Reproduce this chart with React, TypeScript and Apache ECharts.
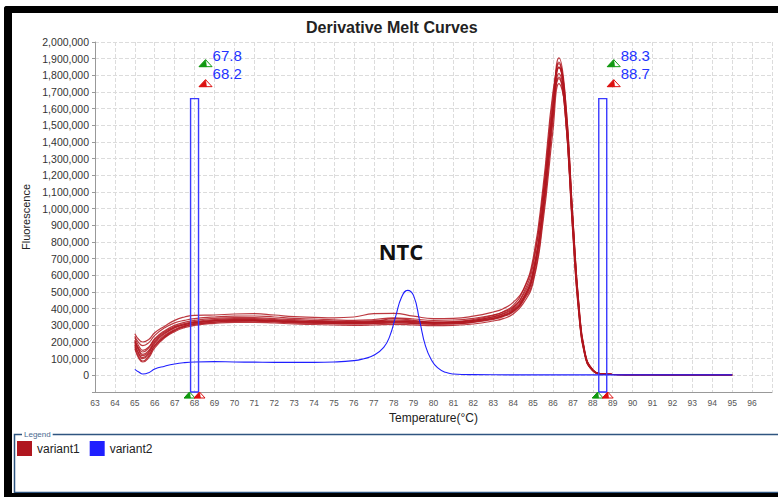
import React, { useEffect, useRef } from "react";
import * as echarts from "echarts";

// Temperatures (°C) sampled for the variant1 curves
const temps = [65, 65.2, 65.4, 65.7, 66, 66.5, 67, 67.5, 68, 69, 70, 71, 72, 73, 74, 75, 76, 77, 78, 79, 80, 81, 82, 83, 83.5, 84, 84.5, 85, 85.5, 86, 86.3, 86.6, 87, 87.3, 87.6, 88, 88.5, 89, 90, 92, 95];

// variant1 replicate curves (fluorescence, thousands)
const c1 = [250, 215, 200, 215, 255, 295, 330, 350, 360, 362, 368, 370, 362, 352, 348, 345, 350, 370, 372, 355, 340, 342, 355, 380, 400, 438, 510, 680, 1080, 1610, 1790, 1590, 860, 380, 125, 28, 8, 5, 4, 3, 2];
const c2 = [235, 195, 178, 196, 240, 285, 315, 330, 340, 350, 355, 356, 350, 342, 338, 333, 330, 335, 345, 338, 330, 332, 342, 362, 380, 410, 480, 630, 1040, 1630, 1880, 1660, 900, 400, 132, 30, 8, 5, 4, 3, 2];
const c3 = [212, 162, 140, 165, 215, 262, 292, 310, 322, 335, 340, 340, 334, 328, 325, 322, 320, 322, 326, 322, 318, 320, 330, 350, 368, 398, 465, 615, 1020, 1610, 1905, 1700, 940, 415, 138, 32, 9, 5, 4, 3, 2];
const c4 = [192, 132, 106, 135, 190, 240, 275, 298, 312, 325, 330, 330, 326, 320, 318, 315, 313, 316, 320, 317, 312, 314, 324, 342, 358, 388, 455, 600, 990, 1570, 1845, 1650, 910, 405, 132, 30, 8, 5, 4, 3, 2];
const c5 = [172, 112, 86, 115, 175, 230, 268, 292, 305, 318, 324, 325, 320, 314, 312, 310, 308, 310, 314, 311, 306, 308, 318, 336, 352, 380, 445, 570, 950, 1530, 1810, 1660, 920, 410, 135, 31, 8, 5, 4, 3, 2];
const c6 = [160, 102, 80, 106, 165, 225, 262, 286, 300, 312, 318, 318, 314, 308, 305, 302, 300, 302, 306, 303, 298, 300, 308, 326, 340, 368, 430, 555, 920, 1470, 1750, 1620, 930, 430, 145, 34, 9, 5, 4, 3, 2];
const c7 = [205, 155, 126, 150, 205, 255, 288, 305, 318, 330, 334, 333, 328, 322, 320, 318, 316, 320, 324, 320, 315, 318, 330, 352, 372, 405, 490, 660, 1090, 1670, 1870, 1630, 860, 375, 122, 28, 8, 5, 4, 3, 2];
const c8 = [226, 176, 150, 170, 220, 268, 300, 318, 330, 342, 346, 346, 340, 334, 330, 326, 324, 328, 332, 326, 320, 322, 335, 360, 382, 420, 510, 700, 1130, 1700, 1850, 1600, 840, 365, 118, 27, 7, 5, 4, 3, 2];
const c9 = [182, 126, 100, 125, 180, 235, 270, 294, 308, 320, 326, 327, 322, 316, 314, 312, 310, 312, 316, 312, 308, 310, 320, 340, 356, 384, 450, 595, 985, 1565, 1850, 1690, 945, 425, 140, 32, 9, 5, 4, 3, 2];
const c10 = [200, 148, 118, 142, 198, 250, 284, 304, 316, 328, 333, 334, 330, 324, 322, 320, 318, 322, 340, 330, 318, 316, 325, 345, 362, 392, 462, 612, 1010, 1600, 1780, 1590, 880, 390, 128, 29, 8, 5, 4, 3, 2];
const variant1Curves = [c1, c2, c3, c4, c5, c6, c7, c8, c9, c10];

// variant2 (NTC) curve
const ntcTemps = [65, 65.2, 65.4, 65.7, 66, 66.5, 67, 67.5, 68, 69, 70, 71, 72, 73, 74, 75, 76, 76.5, 77, 77.5, 77.8, 78.1, 78.4, 78.7, 79, 79.3, 79.6, 79.9, 80.2, 80.6, 81, 82, 84, 86, 88, 90, 92, 95];
const ntcValues = [36, 20, 8, 16, 38, 55, 68, 76, 80, 82, 80, 79, 78, 78, 78, 80, 88, 100, 120, 168, 234, 354, 470, 510, 478, 330, 175, 92, 46, 18, 8, 4, 3, 3, 3, 3, 3, 3];

// melt-region markers (start, end temperatures) and marker height
const markerPairs = [[67.8, 68.2], [88.3, 88.7]];
const markerTop = 1660000;

const seriesNames = ["variant1", "variant2"];
const RED = "#b0161f";
const BLUE = "#1f1fff";
const FONT = "Liberation Sans, Arial, sans-serif";

function tri(cx: number, apexY: number, baseY: number, halfW: number, color: string) {
  return [
    {
      type: "polygon",
      shape: { points: [[cx, apexY], [cx - halfW, baseY], [cx + halfW, baseY]] },
      style: { fill: "#fff", stroke: color, lineWidth: 1 },
    },
    {
      type: "polygon",
      shape: { points: [[cx, apexY], [cx - halfW, baseY], [cx + 1, baseY]] },
      style: { fill: color, stroke: color, lineWidth: 0.5 },
    },
  ];
}

export default function App() {
  const ref = useRef<HTMLDivElement>(null);
  useEffect(() => {
    if (!ref.current) return;
    const chart = echarts.init(ref.current, null, { renderer: "svg" });
    const series: any[] = variant1Curves.map((vals) => ({
      name: seriesNames[0],
      type: "line",
      data: temps.map((t, i) => [t, vals[i] * 1000]),
      smooth: 0.5,
      symbol: "none",
      lineStyle: { color: RED, width: 1.2, opacity: 0.85 },
      itemStyle: { color: RED },
      z: 3,
    }));
    series.push({
      name: seriesNames[1],
      type: "line",
      data: ntcTemps.map((t, i) => [t, ntcValues[i] * 1000]),
      smooth: 0.5,
      symbol: "none",
      lineStyle: { color: BLUE, width: 1.1 },
      itemStyle: { color: BLUE },
      z: 4,
    });
    series.push({
      type: "custom",
      name: "markers",
      silent: true,
      clip: false,
      z: 5,
      encode: { x: [0, 1], y: 2 },
      data: markerPairs.map((p) => [p[0], p[1], markerTop]),
      renderItem: (params: any, api: any) => {
        const a = api.value(0);
        const b = api.value(1);
        const top = api.coord([a, api.value(2)]);
        const bot = api.coord([b, -100000]);
        const xa = top[0];
        const xb = bot[0];
        const ty = top[1];
        const by = bot[1];
        const ax = xa + 15;
        const children: any[] = [
          {
            type: "rect",
            shape: { x: xa, y: ty, width: xb - xa, height: by - ty },
            style: { fill: "none", stroke: "#3a3aff", lineWidth: 1.4 },
          },
          ...tri(ax, ty - 39, ty - 32, 6.5, "#119911"),
          ...tri(ax, ty - 19, ty - 12, 6.5, "#dd1111"),
          {
            type: "text",
            style: { text: a.toFixed(1), x: ax + 7, y: ty - 43, fill: "#2233ff", font: "15px " + FONT, verticalAlign: "middle", align: "left" },
          },
          {
            type: "text",
            style: { text: b.toFixed(1), x: ax + 7, y: ty - 25, fill: "#2233ff", font: "15px " + FONT, verticalAlign: "middle", align: "left" },
          },
          ...tri(xa - 1, by, by + 6, 5.5, "#119911"),
          ...tri(xb + 1, by, by + 6, 5.5, "#dd1111"),
        ];
        return { type: "group", children };
      },
    });

    chart.setOption({
      animation: false,
      backgroundColor: "#fff",
      textStyle: { fontFamily: FONT },
      title: {
        text: "Derivative Melt Curves",
        left: 306,
        top: 19,
        padding: 0,
        textStyle: { fontSize: 16, fontWeight: "bold", color: "#222", fontFamily: FONT },
      },
      grid: { left: 95, right: 6, top: 42, bottom: 105 },
      legend: {
        data: seriesNames,
        left: 17,
        top: 441,
        padding: 0,
        itemWidth: 15,
        itemHeight: 15,
        itemGap: 10,
        icon: "rect",
        textStyle: { fontSize: 12, color: "#222", fontFamily: FONT },
      },
      xAxis: {
        type: "value",
        min: 63,
        max: 97,
        interval: 1,
        name: "Temperature(°C)",
        nameLocation: "middle",
        nameGap: 14,
        nameTextStyle: { fontSize: 12, color: "#222", fontFamily: FONT },
        axisLine: { show: true, onZero: false, lineStyle: { color: "#999" } },
        axisTick: { show: false },
        axisLabel: { fontSize: 8.5, color: "#555", margin: 6, showMaxLabel: false },
        splitLine: { show: true, lineStyle: { type: "dashed", color: "#dcdcdc" } },
      },
      yAxis: {
        type: "value",
        min: -100000,
        max: 2000000,
        interval: 100000,
        name: "Fluorescence",
        nameLocation: "middle",
        nameGap: 58,
        nameRotate: 90,
        nameTextStyle: { fontSize: 11, color: "#222", fontFamily: FONT },
        axisLine: { show: true, lineStyle: { color: "#999" } },
        axisTick: { show: true, length: 3, lineStyle: { color: "#999" } },
        axisLabel: {
          fontSize: 10.5,
          color: "#333",
          margin: 6,
          formatter: (v: number) => (v < 0 ? "" : v.toLocaleString("en-US")),
        },
        splitLine: { show: true, lineStyle: { type: "dashed", color: "#dcdcdc" } },
      },
      graphic: [
        { type: "rect", shape: { x: 4, y: 6, width: 774, height: 7, r: [3, 0, 0, 0] }, style: { fill: "#000" }, z: 100 },
        { type: "rect", shape: { x: 4, y: 6, width: 8, height: 491, r: [3, 0, 0, 0] }, style: { fill: "#000" }, z: 100 },
        { type: "rect", shape: { x: 4, y: 493, width: 774, height: 4 }, style: { fill: "#000" }, z: 100 },
        { type: "rect", shape: { x: 14.5, y: 434.5, width: 770, height: 58 }, style: { fill: "none", stroke: "#2f5580", lineWidth: 1.5 }, z: 90 },
        {
          type: "text",
          x: 22,
          y: 434,
          style: { text: "Legend", fill: "#4a6a90", font: "8px " + FONT, backgroundColor: "#fff", padding: [0, 2], verticalAlign: "middle" },
          z: 95,
        },
        {
          type: "text",
          x: 401,
          y: 251,
          style: { text: "NTC", fill: "#111", font: "bold 22px Open Sans, Arial, sans-serif", align: "center", verticalAlign: "middle" },
          z: 50,
        },
      ],
      series,
    });
    return () => chart.dispose();
  }, []);
  return <div ref={ref} style={{ position: "fixed", left: 0, top: 0, width: 778, height: 497 }} />;
}
